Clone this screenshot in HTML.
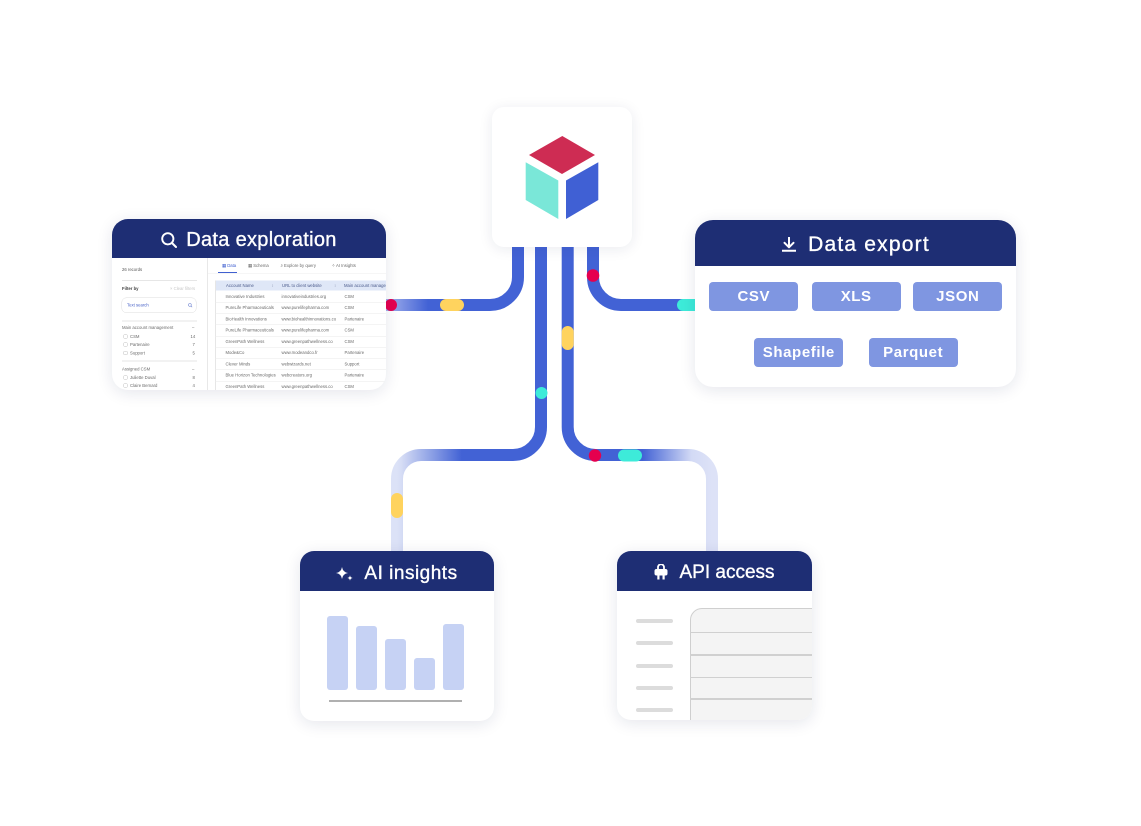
<!DOCTYPE html>
<html><head><meta charset="utf-8">
<style>
*{box-sizing:border-box}
body{margin:0;width:1141px;height:826px;background:#fff;position:relative;overflow:hidden;font-family:"Liberation Sans",sans-serif}
.card{position:absolute;background:#fff;overflow:hidden;box-shadow:0 3px 16px rgba(20,30,80,0.11)}
.hdr{position:absolute;left:0;top:0;width:100%;background:#1e2e74;display:flex;align-items:center;justify-content:center;color:#fff;white-space:nowrap}
.ttl{font-size:20px;line-height:20px;-webkit-text-stroke:0.35px #fff;position:relative}
.t{position:absolute;font-size:8.5px;line-height:10px;white-space:nowrap;color:#6a6a6a}
.hr{position:absolute;height:1.5px;background:#e6e6e6}
.cb{position:absolute;width:8px;height:8px;border:1px solid #bdbdbd;border-radius:1.5px;left:23px}
.chip{position:absolute;width:89px;height:29px;background:#7f96e1;border-radius:4px;color:#fff;font-weight:bold;font-size:15px;letter-spacing:0.6px;display:flex;align-items:center;justify-content:center}
.bar{position:absolute;width:21px;background:#c6d2f4;border-radius:3px;bottom:31px}
.gl{position:absolute;left:18.7px;width:37.3px;height:4px;border-radius:2px;background:#dcdcdc}
.rl{position:absolute;left:73px;right:0;height:1.5px;background:#d0d0d0}
.row{position:absolute;left:206px;width:400px;height:1px;background:#e9e9e9}
</style></head>
<body>

<svg width="1141" height="826" style="position:absolute;left:0;top:0">
  <defs>
    <linearGradient id="g1" gradientUnits="userSpaceOnUse" x1="386" y1="0" x2="428" y2="0">
      <stop offset="0" stop-color="#a3b1ec"/><stop offset="1" stop-color="#4262d5"/>
    </linearGradient>
    <linearGradient id="g2" gradientUnits="userSpaceOnUse" x1="541" y1="0" x2="397" y2="0">
      <stop offset="0" stop-color="#4262d5"/><stop offset="0.55" stop-color="#4262d5"/>
      <stop offset="0.97" stop-color="#d6ddf5"/><stop offset="1" stop-color="#dce2f7"/>
    </linearGradient>
    <linearGradient id="g3" gradientUnits="userSpaceOnUse" x1="567" y1="0" x2="712" y2="0">
      <stop offset="0" stop-color="#4262d5"/><stop offset="0.52" stop-color="#4262d5"/>
      <stop offset="0.86" stop-color="#d3daf5"/><stop offset="1" stop-color="#dde2f7"/>
    </linearGradient>
  </defs>
  <g fill="none" stroke-width="12">
    <path d="M518,240 V277 A28,28 0 0 1 490,305 H380" stroke="url(#g1)"/>
    <path d="M593,240 V277 A28,28 0 0 0 621,305 H700" stroke="#4262d5"/>
    <path d="M541,240 V427 A28,28 0 0 1 513,455 H421 A24,24 0 0 0 397,479 V560" stroke="url(#g2)"/>
    <path d="M567.7,240 V427 A28,28 0 0 0 595.7,455 H688 A24,24 0 0 1 712,479 V560" stroke="url(#g3)"/>
  </g>
  <circle cx="391" cy="305" r="6" fill="#e5004e"/>
  <rect x="440" y="299" width="24" height="12" rx="6" fill="#ffd35e"/>
  <circle cx="593" cy="275.5" r="6.3" fill="#e5004e"/>
  <rect x="677" y="299" width="26" height="12" rx="6" fill="#3debd9"/>
  <circle cx="541.5" cy="393" r="6" fill="#3debd9"/>
  <rect x="561.7" y="326" width="12" height="24" rx="6" fill="#ffd35e"/>
  <circle cx="595" cy="455.5" r="6.2" fill="#e5004e"/>
  <rect x="618" y="449.5" width="24" height="12" rx="6" fill="#3debd9"/>
  <rect x="391" y="493" width="12" height="25" rx="6" fill="#ffd35e"/>
</svg>

<!-- center box -->
<div style="position:absolute;left:492px;top:107px;width:140px;height:140px;background:#fff;border-radius:12px;box-shadow:0 2px 14px rgba(20,30,80,0.09)">
  <svg width="140" height="140" viewBox="492 107 140 140" style="position:absolute;left:0;top:0">
    <polygon points="529,155 562.3,136 595,155 562,174" fill="#ce2c53"/>
    <polygon points="525.7,162.3 558.3,180.5 558.3,219 525.7,200" fill="#7ae7d8"/>
    <polygon points="566,180.5 598.3,162.3 598.3,200 566,219" fill="#4060d4"/>
  </svg>
</div>

<!-- Data exploration -->
<div class="card" style="left:112px;top:219px;width:274px;height:171px;border-radius:16px">
  <div class="hdr" style="height:39px;gap:9px;padding-top:3px">
    <svg width="16" height="16" viewBox="0 0 16 16"><circle cx="6.8" cy="6.8" r="5.6" stroke="#fff" stroke-width="1.9" fill="none"/><line x1="11" y1="11" x2="15" y2="15" stroke="#fff" stroke-width="2" stroke-linecap="round"/></svg>
    <span class="ttl" style="letter-spacing:0.3px">Data exploration</span>
  </div>
  <div style="position:absolute;left:0;top:39.3px;width:548px;height:264px;transform:scale(.5);transform-origin:0 0">
    <!-- sidebar -->
    <div class="t" style="left:20px;top:18.4px;color:#555">26 records</div>
    <div class="hr" style="left:20px;top:44px;width:150px"></div>
    <div class="t" style="left:20px;top:56.4px;color:#444;font-weight:bold">Filter by</div>
    <div class="t" style="left:116px;top:56.4px;color:#c8c8c8">× Clear filters</div>
    <div style="position:absolute;left:19px;top:79px;width:150px;height:31px;border:1.5px solid #dcdcdc;border-radius:10px"></div>
    <div class="t" style="left:30px;top:89.4px;color:#4a64c8">Text search</div>
    <svg width="9" height="9" style="position:absolute;left:152px;top:90px" viewBox="0 0 9 9"><circle cx="3.8" cy="3.8" r="2.8" stroke="#6a7fcf" stroke-width="1.1" fill="none"/><line x1="6" y1="6" x2="8.3" y2="8.3" stroke="#6a7fcf" stroke-width="1.1"/></svg>
    <div class="hr" style="left:20px;top:125px;width:150px"></div>
    <div class="t" style="left:20px;top:134.4px">Main account management</div>
    <div class="t" style="left:160px;top:134.4px">–</div>
    <div class="cb" style="top:152.8px"></div><div class="t" style="left:36px;top:151.8px">CSM</div><div class="t" style="left:157px;top:151.8px">14</div>
    <div class="cb" style="top:169.4px"></div><div class="t" style="left:36px;top:168.4px">Partenaire</div><div class="t" style="left:161px;top:168.4px">7</div>
    <div class="cb" style="top:186px"></div><div class="t" style="left:36px;top:185px">Support</div><div class="t" style="left:161px;top:185px">5</div>
    <div class="hr" style="left:20px;top:205px;width:150px"></div>
    <div class="t" style="left:20px;top:217px">Assigned CSM</div>
    <div class="t" style="left:160px;top:217px">–</div>
    <div class="cb" style="top:235.4px"></div><div class="t" style="left:36px;top:234.4px">Juliette Duval</div><div class="t" style="left:161px;top:234.4px">8</div>
    <div class="cb" style="top:251.4px"></div><div class="t" style="left:36px;top:250.4px">Claire Bernard</div><div class="t" style="left:161px;top:250.4px">4</div>
    <div style="position:absolute;left:190px;top:0;width:1.5px;height:264px;background:#e8e8e8"></div>
    <!-- tabs -->
    <div class="t" style="left:220px;top:10.4px;color:#4060d0">▦ Data</div>
    <div class="t" style="left:272px;top:10.4px">▦ Schema</div>
    <div class="t" style="left:337px;top:10.4px">⌕ Explore by query</div>
    <div class="t" style="left:439px;top:10.4px">✧ AI Insights</div>
    <div style="position:absolute;left:192px;top:30px;width:360px;height:1px;background:#eee"></div>
    <div style="position:absolute;left:212px;top:28px;width:38px;height:2px;background:#4060d0"></div>
    <!-- table -->
    <div style="position:absolute;left:206px;top:45.4px;width:400px;height:20px;background:#dfe7f7"></div>
    <div style="position:absolute;left:206px;top:45.4px;width:1.5px;height:230px;background:#e6e6e6"></div>
    <div class="t" style="left:228px;top:50.4px;color:#4a5a8a">Account Name</div>
    <div class="t" style="left:319px;top:50.4px;color:#8a94b0">↕</div>
    <div class="t" style="left:340px;top:50.4px;color:#4a5a8a">URL to client website</div>
    <div class="t" style="left:444px;top:50.4px;color:#8a94b0">↕</div>
    <div class="t" style="left:464px;top:50.4px;color:#4a5a8a">Main account manager</div>

    <div class="t" style="left:227px;top:71.6px">Innovative Industries</div><div class="t" style="left:339px;top:71.6px">innovativeindustries.org</div><div class="t" style="left:465px;top:71.6px">CSM</div>
    <div class="row" style="top:88px"></div>
    <div class="t" style="left:227px;top:94.1px">PureLife Pharmaceuticals</div><div class="t" style="left:339px;top:94.1px">www.purelifepharma.com</div><div class="t" style="left:465px;top:94.1px">CSM</div>
    <div class="row" style="top:110.5px"></div>
    <div class="t" style="left:227px;top:116.6px">BioHealth Innovations</div><div class="t" style="left:339px;top:116.6px">www.biohealthinnovations.co</div><div class="t" style="left:465px;top:116.6px">Partenaire</div>
    <div class="row" style="top:133px"></div>
    <div class="t" style="left:227px;top:139.1px">PureLife Pharmaceuticals</div><div class="t" style="left:339px;top:139.1px">www.purelifepharma.com</div><div class="t" style="left:465px;top:139.1px">CSM</div>
    <div class="row" style="top:155.5px"></div>
    <div class="t" style="left:227px;top:161.6px">GreenPath Wellness</div><div class="t" style="left:339px;top:161.6px">www.greenpathwellness.co</div><div class="t" style="left:465px;top:161.6px">CSM</div>
    <div class="row" style="top:178px"></div>
    <div class="t" style="left:227px;top:184.1px">Mode&amp;Co</div><div class="t" style="left:339px;top:184.1px">www.modeandco.fr</div><div class="t" style="left:465px;top:184.1px">Partenaire</div>
    <div class="row" style="top:200.5px"></div>
    <div class="t" style="left:227px;top:206.6px">Clever Minds</div><div class="t" style="left:339px;top:206.6px">webwizards.net</div><div class="t" style="left:465px;top:206.6px">Support</div>
    <div class="row" style="top:223px"></div>
    <div class="t" style="left:227px;top:229.1px">Blue Horizon Technologies</div><div class="t" style="left:339px;top:229.1px">webcreators.org</div><div class="t" style="left:465px;top:229.1px">Partenaire</div>
    <div class="row" style="top:245.5px"></div>
    <div class="t" style="left:227px;top:251.6px">GreenPath Wellness</div><div class="t" style="left:339px;top:251.6px">www.greenpathwellness.co</div><div class="t" style="left:465px;top:251.6px">CSM</div>
  </div>
</div>

<!-- Data export -->
<div class="card" style="left:695px;top:220px;width:321px;height:167px;border-radius:18px">
  <div class="hdr" style="height:46px;gap:11px;padding-top:2px">
    <svg width="16" height="15" viewBox="0 0 16 15"><path d="M8 0.5 V10 M3.5 5.8 L8 10.3 L12.5 5.8" stroke="#fff" stroke-width="2" fill="none" stroke-linecap="round" stroke-linejoin="round"/><line x1="1" y1="13.8" x2="15" y2="13.8" stroke="#fff" stroke-width="2"/></svg>
    <span class="ttl" style="font-size:21px;line-height:21px;letter-spacing:1.2px">Data export</span>
  </div>
  <div class="chip" style="left:14.3px;top:62.3px">CSV</div>
  <div class="chip" style="left:116.7px;top:62.3px">XLS</div>
  <div class="chip" style="left:218.3px;top:62.3px">JSON</div>
  <div class="chip" style="left:59.3px;top:118.3px">Shapefile</div>
  <div class="chip" style="left:173.7px;top:118.3px">Parquet</div>
</div>

<!-- AI insights -->
<div class="card" style="left:300px;top:551px;width:194px;height:170px;border-radius:14px">
  <div class="hdr" style="height:40px;gap:11px;padding-top:5px">
    <svg width="17" height="14" viewBox="0 0 17 14"><path d="M6 0 Q6.8 5.2 12 6 Q6.8 6.8 6 12 Q5.2 6.8 0 6 Q5.2 5.2 6 0 Z" fill="#fff"/><path d="M14 8.3 Q14.3 10.7 16.7 11 Q14.3 11.3 14 13.7 Q13.7 11.3 11.3 11 Q13.7 10.7 14 8.3 Z" fill="#fff"/></svg>
    <span class="ttl" style="font-size:19px;line-height:19px;letter-spacing:0.5px">AI insights</span>
  </div>
  <div class="bar" style="left:26.7px;height:74.3px"></div>
  <div class="bar" style="left:56px;height:64.3px"></div>
  <div class="bar" style="left:85px;height:50.7px"></div>
  <div class="bar" style="left:114px;height:32.3px"></div>
  <div class="bar" style="left:143px;height:66.3px"></div>
  <div style="position:absolute;left:29.3px;top:149px;width:133px;height:2px;background:#b0b0b0"></div>
</div>

<!-- API access -->
<div class="card" style="left:617.3px;top:551px;width:194.4px;height:169px;border-radius:14px">
  <div class="hdr" style="height:40px;gap:11px;padding-top:2px">
    <svg width="14" height="16" viewBox="0 0 14 16"><path d="M4 5 V3.2 a3 3 0 0 1 6 0 V5" stroke="#fff" stroke-width="1.8" fill="none"/><rect x="0.5" y="5" width="13" height="6.5" rx="2" fill="#fff"/><rect x="3.3" y="11" width="2.2" height="4.5" fill="#fff"/><rect x="8.5" y="11" width="2.2" height="4.5" fill="#fff"/></svg>
    <span class="ttl" style="font-size:19px;line-height:19px">API access</span>
  </div>
  <div class="gl" style="top:68px"></div>
  <div class="gl" style="top:90.3px"></div>
  <div class="gl" style="top:112.7px"></div>
  <div class="gl" style="top:134.7px"></div>
  <div class="gl" style="top:157px"></div>
  <div style="position:absolute;left:72.7px;top:56.7px;width:140px;height:130px;background:#f4f4f4;border:1.5px solid #cfcfcf;border-radius:12px 0 0 0"></div>
  <div class="rl" style="top:80.5px"></div>
  <div class="rl" style="top:103.2px"></div>
  <div class="rl" style="top:125.5px"></div>
  <div class="rl" style="top:147.2px"></div>
</div>

</body></html>
